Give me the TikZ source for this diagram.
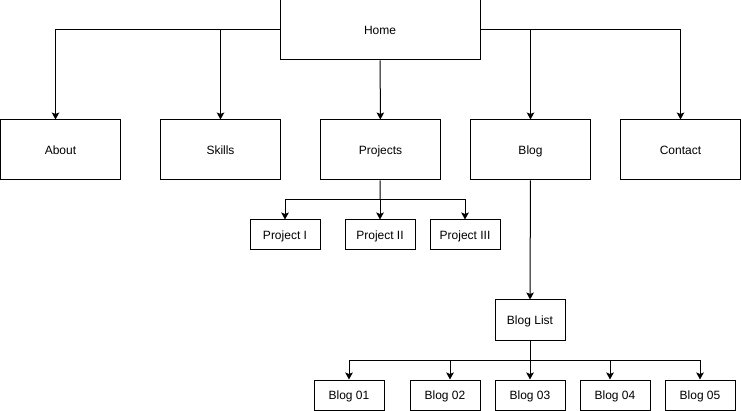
\documentclass[tikz,border=0pt]{standalone}
\usepackage{fontspec}
\setmainfont{Liberation Sans}
\usepackage{tikz}
\usetikzlibrary{arrows.meta, positioning}

\begin{document}
\begin{tikzpicture}[
		x=1pt, y=-1pt,
		box/.style={
			draw,
			line width=1pt,
			minimum width=120pt,
			minimum height=60pt,
			align=center,
			inner sep=0pt,
			text depth=0pt,
			font=\fontsize{12}{14}\selectfont
		},
		smallbox/.style={
			box,
			minimum width=70pt,
			minimum height=30pt
		},
		line/.style={line width=1pt},
		arrow/.style={-{Stealth[length=7pt, width=7.5pt, inset=1.5pt]}, line width=1pt}
		]
		
		\useasboundingbox (0,0) rectangle (741,411);
		
		% top level
		\node[box, minimum width=200pt] (home) at (380,30) {Home};
		\node[box] (about) at (60.5,150) {About};
		\node[box, right=39pt of about] (skills) {Skills};
		\node[box, right=39pt of skills] (projects) {Projects};
		\node[box, right=29pt of projects] (blog) {Blog};
		\node[box, right=29pt of blog] (contact) {Contact};
		
		% projects
		\node[smallbox] (project1) at (285,235) {Project I};
		\node[smallbox] (project2) at (380,235) {Project II};
		\node[smallbox] (project3) at (465,235) {Project III};
		\coordinate (projectbus) at (380,200);
		
		% blog
		\node[smallbox, minimum height=40pt] (bloglist) at (530,320) {Blog List};
		\node[smallbox] (blog1) at (349,395) {Blog 01};
		\node[smallbox] (blog2) at (445,395) {Blog 02};
		\node[smallbox] (blog3) at (530,395) {Blog 03};
		\node[smallbox] (blog4) at (615,395) {Blog 04};
		\node[smallbox] (blog5) at (700,395) {Blog 05};
		\coordinate (blogbus) at (530,360);
		
		\draw[arrow] (home.west) -| ([xshift=-5pt]about.north);
		\draw[arrow] (home.west) -| (skills.north);
		\draw[arrow] (home) -- (projects);
		\draw[arrow] (home.east) -| (blog.north);
		\draw[arrow] (home.east) -| (contact.north);
		
		\draw[line] (projects) -- (projectbus);
		\draw[arrow] (projectbus) -| (project1.north);
		\draw[arrow] (projectbus) -- (project2.north);
		\draw[arrow] (projectbus) -| (project3.north);
		
		\draw[arrow] (blog) -- (bloglist);
		\draw[line] (bloglist) -- (blogbus);
		\draw[arrow] (blogbus) -| (blog1.north);
		\draw[arrow] (blogbus) -| ([xshift=5pt]blog2.north);
		\draw[arrow] (blogbus) -- (blog3.north);
		\draw[arrow] (blogbus) -| ([xshift=-5pt]blog4.north);
		\draw[arrow] (blogbus) -| (blog5.north);
		
	\end{tikzpicture}
\end{document}
